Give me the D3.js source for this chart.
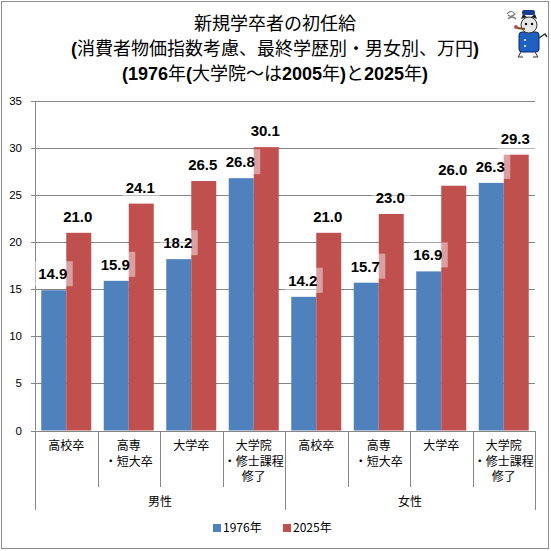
<!DOCTYPE html>
<html>
<head>
<meta charset="utf-8">
<script src="https://cdn.jsdelivr.net/npm/d3@7/dist/d3.min.js"></script>
<style>
    body { margin: 0; background: #fff; }
    svg { display: block; }
</style>
</head>
<body>
<div id="chart"></div>
<script>
// chart data
var groups = ["男性", "女性"];
var educations = [["高校卒"], ["高専", "・短大卒"], ["大学卒"], ["大学院", "・修士課程", "修了"]];
var seriesNames = ["1976年", "2025年"];
var values1976 = [14.9, 15.9, 18.2, 26.8, 14.2, 15.7, 16.9, 26.3];
var values2025 = [21.0, 24.1, 26.5, 30.1, 21.0, 23.0, 26.0, 29.3];
var yTicks = [0, 5, 10, 15, 20, 25, 30, 35];
var titleLines = [
    "新規学卒者の初任給",
    "(消費者物価指数考慮、最終学歴別・男女別、万円)",
    "(1976年(大学院〜は2005年)と2025年)"
];

(function() {

    var d3 = window.d3;
    var width = 551, height = 551;
    var margins = {left: 35, right: 16, top: 101, bottom: 120};
    var colours = ["#4F81BD", "#C0504D"];
    var jpFont = "'Noto Sans CJK JP', sans-serif";
    var numFont = "'Liberation Sans', Arial, sans-serif";

    //one entry per bar cluster
    var cats = [];
    groups.forEach(function(g, gi) {
        educations.forEach(function(e, ei) {
            var i = gi * educations.length + ei;
            cats.push({id: i, group: g, lines: e, values: [values1976[i], values2025[i]]});
        });
    });

    var svg = d3.select("#chart")
        .append("svg:svg")
        .attr("width", width)
        .attr("height", height);

    //outer frame
    svg.append("svg:rect")
        .attr("x", 1.5).attr("y", 1.5)
        .attr("width", width - 4).attr("height", height - 4)
        .attr("fill", "#fff")
        .attr("stroke", "#8c8c8c");

    var x0 = d3.scaleBand()
        .domain(cats.map(function(d) { return d.id; }))
        .range([margins.left, width - margins.right])
        .padding(0);

    var x1 = d3.scaleBand()
        .domain([0, 1])
        .range([0, x0.bandwidth()])
        .paddingInner(0)
        .paddingOuter(0.25);

    var y = d3.scaleLinear()
        .domain([0, 35])
        .range([height - margins.bottom - 0.5, margins.top]);

    var plotRight = width - margins.right;

    //gridlines
    svg.append("svg:g")
        .selectAll("line")
        .data(yTicks.filter(function(t) { return t > 0; }))
        .enter()
        .append("svg:line")
        .attr("x1", margins.left - 4)
        .attr("x2", plotRight)
        .attr("y1", function(d) { return Math.round(y(d)) + 0.5; })
        .attr("y2", function(d) { return Math.round(y(d)) + 0.5; })
        .attr("stroke", "#868686");

    //y axis labels
    var yAxis = svg.append("svg:g");
    yAxis.selectAll("text")
        .data(yTicks)
        .enter()
        .append("svg:text")
        .attr("x", 22)
        .attr("y", function(d) { return y(d); })
        .attr("dy", "0.35em")
        .attr("text-anchor", "end")
        .style("font-family", numFont)
        .style("font-size", "11.5px")
        .attr("fill", "#000")
        .text(function(d) { return d; });

    //bars
    var clusters = svg.append("svg:g")
        .selectAll("g")
        .data(cats)
        .enter()
        .append("svg:g")
        .attr("transform", function(d) { return "translate(" + x0(d.id) + ",0)"; });

    clusters.selectAll("rect")
        .data(function(d) { return d.values; })
        .enter()
        .append("svg:rect")
        .attr("x", function(d, i) { return x1(i); })
        .attr("width", x1.bandwidth())
        .attr("y", function(d) { return y(d); })
        .attr("height", function(d) { return y(0) - y(d); })
        .attr("fill", function(d, i) { return colours[i]; });

    //axes lines drawn after bars
    svg.append("svg:line")
        .attr("x1", margins.left + 0.5).attr("x2", margins.left + 0.5)
        .attr("y1", margins.top).attr("y2", y(0))
        .attr("stroke", "#868686");
    svg.append("svg:line")
        .attr("x1", margins.left - 4).attr("x2", plotRight)
        .attr("y1", Math.round(y(0)) + 0.5).attr("y2", Math.round(y(0)) + 0.5)
        .attr("stroke", "#868686");

    //value labels with semi transparent boxes
    var labels = svg.append("svg:g");
    cats.forEach(function(c) {
        c.values.forEach(function(v, i) {
            var cx = x0(c.id) + x1(i) + x1.bandwidth() / 2;
            var base = y(v) - 11;
            labels.append("svg:rect")
                .attr("x", cx - 19)
                .attr("y", base - 18)
                .attr("width", 38)
                .attr("height", 25)
                .attr("fill", "#fff")
                .attr("fill-opacity", 0.45);
            labels.append("svg:text")
                .attr("x", cx - 1)
                .attr("y", base)
                .attr("text-anchor", "middle")
                .style("font-family", numFont)
                .style("font-size", "15px")
                .style("font-weight", "bold")
                .attr("fill", "#000")
                .text(v.toFixed(1));
        });
    });

    //category axis separators
    var axisY = Math.round(y(0));
    var sep = svg.append("svg:g");
    d3.range(cats.length + 1).forEach(function(i) {
        var xx = Math.round(margins.left + i * x0.step()) + 0.5;
        var long = (i % educations.length === 0);
        sep.append("svg:line")
            .attr("x1", xx).attr("x2", xx)
            .attr("y1", axisY)
            .attr("y2", long ? 510 : 487)
            .attr("stroke", "#868686");
    });

    //category labels
    svg.append("svg:g")
        .selectAll("text")
        .data(cats)
        .enter()
        .append("svg:text")
        .attr("text-anchor", "middle")
        .style("font-family", jpFont)
        .style("font-size", "12px")
        .attr("fill", "#000")
        .each(function(d) {
            var t = d3.select(this);
            d.lines.forEach(function(l, li) {
                t.append("svg:tspan")
                    .attr("x", x0(d.id) + x0.bandwidth() / 2)
                    .attr("y", 450 + li * 15.5)
                    .text(l);
            });
        });

    //group labels
    svg.append("svg:g")
        .selectAll("text")
        .data(groups)
        .enter()
        .append("svg:text")
        .attr("x", function(d, i) { return margins.left + (i + 0.5) * educations.length * x0.step(); })
        .attr("y", 506)
        .attr("text-anchor", "middle")
        .style("font-family", jpFont)
        .style("font-size", "12px")
        .attr("fill", "#000")
        .text(function(d) { return d; });

    //legend
    var legend = svg.append("svg:g");
    var legendX = [213, 283];
    seriesNames.forEach(function(s, i) {
        legend.append("svg:rect")
            .attr("x", legendX[i]).attr("y", 524)
            .attr("width", 8).attr("height", 8)
            .attr("fill", colours[i]);
        legend.append("svg:text")
            .attr("x", legendX[i] + 10)
            .attr("y", 532)
            .style("font-family", jpFont)
            .style("font-size", "12px")
            .attr("fill", "#000")
            .text(s);
    });

    //title: ascii runs bold, japanese runs normal
    var title = svg.append("svg:g");
    titleLines.forEach(function(line, li) {
        var t = title.append("svg:text")
            .attr("x", 275)
            .attr("y", 30 + li * 25)
            .attr("text-anchor", "middle")
            .style("font-size", "18px")
            .attr("fill", "#000");
        var parts = line.match(/[\x00-\x7f]+|[^\x00-\x7f]+/g);
        parts.forEach(function(p) {
            var ascii = /^[\x00-\x7f]+$/.test(p);
            t.append("svg:tspan")
                .style("font-family", ascii ? numFont : jpFont)
                .style("font-weight", ascii ? "bold" : "normal")
                .text(p);
        });
    });

    //small mascot in the top right corner
    var m = svg.append("svg:g").attr("transform", "translate(505,8)");
    m.append("svg:path").attr("d", "M2,6 q4,-5 8,0 q-4,4 -7,1").attr("fill", "none").attr("stroke", "#777").attr("stroke-width", 1.2);
    m.append("svg:path").attr("d", "M3,11 q4,-4 8,0").attr("fill", "none").attr("stroke", "#777").attr("stroke-width", 1.2);
    m.append("svg:rect").attr("x", 14).attr("y", 24).attr("width", 20).attr("height", 20).attr("rx", 3).attr("fill", "#1f5fbf").attr("stroke", "#0a2a6a");
    m.append("svg:circle").attr("cx", 24).attr("cy", 17).attr("r", 8).attr("fill", "#e8e8e8").attr("stroke", "#333");
    m.append("svg:path").attr("d", "M16,11 l2,-5 l4,3 z M32,11 l-2,-5 l-4,3 z").attr("fill", "#222");
    m.append("svg:rect").attr("x", 17).attr("y", 2).attr("width", 13).attr("height", 5).attr("rx", 2).attr("fill", "#1a3f8a");
    m.append("svg:circle").attr("cx", 21).attr("cy", 16).attr("r", 1.2).attr("fill", "#000");
    m.append("svg:circle").attr("cx", 27).attr("cy", 16).attr("r", 1.2).attr("fill", "#000");
    m.append("svg:line").attr("x1", 12).attr("y1", 20).attr("x2", 20).attr("y2", 21).attr("stroke", "#7a4a1a").attr("stroke-width", 2);
    m.append("svg:circle").attr("cx", 11).attr("cy", 19).attr("r", 2).attr("fill", "#c0504d");
    m.append("svg:path").attr("d", "M16,44 l-3,5 l5,0 M30,44 l3,5 l-5,0").attr("fill", "#eee").attr("stroke", "#333");
    m.append("svg:path").attr("d", "M34,30 l6,-4 l2,3").attr("fill", "none").attr("stroke", "#333").attr("stroke-width", 1.5);
    m.append("svg:circle").attr("cx", 20).attr("cy", 32).attr("r", 1).attr("fill", "#fff");
    m.append("svg:circle").attr("cx", 20).attr("cy", 38).attr("r", 1).attr("fill", "#fff");

}());
</script>
</body>
</html>
